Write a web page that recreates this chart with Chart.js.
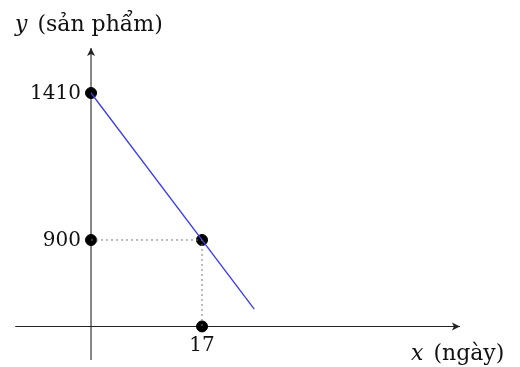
<!DOCTYPE html>
<html>
<head>
<meta charset="utf-8">
<script src="https://cdn.jsdelivr.net/npm/chart.js@4.4.1/dist/chart.umd.min.js"></script>
<style>
    html, body { margin: 0; padding: 0; background: #fff; }
    #wrap { width: 520px; height: 367px; }
</style>
</head>
<body>
<div id="wrap"><canvas id="chart" width="520" height="367"></canvas></div>
<script>
// Production line: y = 1410 - 30x
const lineX = [0, 25];
const lineY = [1410, 660];

// Marked points on the axes and on the line
const markX = [0, 0, 17, 17];
const markY = [1410, 900, 900, 600];

// Dotted guides to the point (17, 900)
const guideX = [0, 17, 17];
const guideY = [900, 900, 600];

// Tick labels
const yTickValues = [1410, 900];
const xTickValues = [17];

// Level where the horizontal axis is drawn (schematic, not y = 0)
const xAxisLevel = 600;

const xTitle = ['x', ' (ngày)'];
const yTitle = ['y', ' (sản phẩm)'];

const serif = "'DejaVu Serif', 'Liberation Serif', serif";
const tickSize = 20;
const titleSize = 22;

const toPoints = (xs, ys) => xs.map((x, i) => ({ x, y: ys[i] }));

// Draws the axes with arrowheads, tick labels and axis titles
const axesPlugin = {
    id: 'axesPlugin',
    beforeDatasetsDraw(chart) {
        const ctx = chart.ctx;
        const sx = chart.scales.x;
        const sy = chart.scales.y;
        const ox = sx.getPixelForValue(0);
        const oy = sy.getPixelForValue(xAxisLevel);

        ctx.save();
        ctx.strokeStyle = '#222';
        ctx.fillStyle = '#222';
        ctx.lineWidth = 1.1;

        // horizontal axis
        ctx.beginPath();
        ctx.moveTo(sx.getPixelForValue(-11.6), oy);
        ctx.lineTo(sx.getPixelForValue(56.5), oy);
        ctx.stroke();
        arrow(ctx, sx.getPixelForValue(56.5), oy, 0);

        // vertical axis
        ctx.beginPath();
        ctx.moveTo(ox, sy.getPixelForValue(484));
        ctx.lineTo(ox, sy.getPixelForValue(1566));
        ctx.stroke();
        arrow(ctx, ox, sy.getPixelForValue(1566), -Math.PI / 2);
        ctx.restore();
    },
    afterDatasetsDraw(chart) {
        const ctx = chart.ctx;
        const sx = chart.scales.x;
        const sy = chart.scales.y;
        const ox = sx.getPixelForValue(0);
        const oy = sy.getPixelForValue(xAxisLevel);

        ctx.save();
        ctx.fillStyle = '#111';
        ctx.font = tickSize + 'px ' + serif;

        ctx.textAlign = 'right';
        ctx.textBaseline = 'middle';
        yTickValues.forEach(v => {
            ctx.fillText(String(v), ox - 10, sy.getPixelForValue(v) + 1);
        });

        ctx.textAlign = 'center';
        ctx.textBaseline = 'top';
        xTickValues.forEach(v => {
            ctx.fillText(String(v), sx.getPixelForValue(v), oy + 9);
        });

        // axis titles: italic variable, upright description
        ctx.textAlign = 'left';
        ctx.textBaseline = 'alphabetic';
        drawTitle(ctx, yTitle, 15, 31);
        drawTitle(ctx, xTitle, 411, 360);
        ctx.restore();
    }
};

function drawTitle(ctx, parts, x, y) {
    ctx.font = 'italic ' + titleSize + 'px ' + serif;
    ctx.fillText(parts[0], x, y);
    const w = ctx.measureText(parts[0]).width;
    ctx.font = titleSize + 'px ' + serif;
    ctx.fillText(parts[1], x + w + 3, y);
}

function arrow(ctx, x, y, angle) {
    ctx.save();
    ctx.translate(x, y);
    ctx.rotate(angle);
    ctx.beginPath();
    ctx.moveTo(0, 0);
    ctx.lineTo(-8, -4);
    ctx.lineTo(-6, 0);
    ctx.lineTo(-8, 4);
    ctx.closePath();
    ctx.fill();
    ctx.restore();
}

const ctx = document.getElementById('chart').getContext('2d');

new Chart(ctx, {
    type: 'scatter',
    data: {
        datasets: [
            {
                data: toPoints(guideX, guideY),
                showLine: true,
                borderColor: '#777',
                borderWidth: 1,
                borderDash: [2, 3],
                pointRadius: 0
            },
            {
                data: toPoints(lineX, lineY),
                showLine: true,
                borderColor: '#3a3af0',
                borderWidth: 1.3,
                pointRadius: 0
            },
            {
                data: toPoints(markX, markY),
                showLine: false,
                backgroundColor: '#000',
                borderColor: '#000',
                pointRadius: 5.5
            }
        ]
    },
    options: {
        responsive: false,
        animation: false,
        layout: { padding: 0, autoPadding: false },
        plugins: {
            legend: { display: false },
            tooltip: { enabled: false }
        },
        scales: {
            x: { type: 'linear', display: false, min: -13.94, max: 65.7 },
            y: { type: 'linear', display: false, min: 459.3, max: 1732.7 }
        }
    },
    plugins: [axesPlugin]
});
</script>
</body>
</html>
